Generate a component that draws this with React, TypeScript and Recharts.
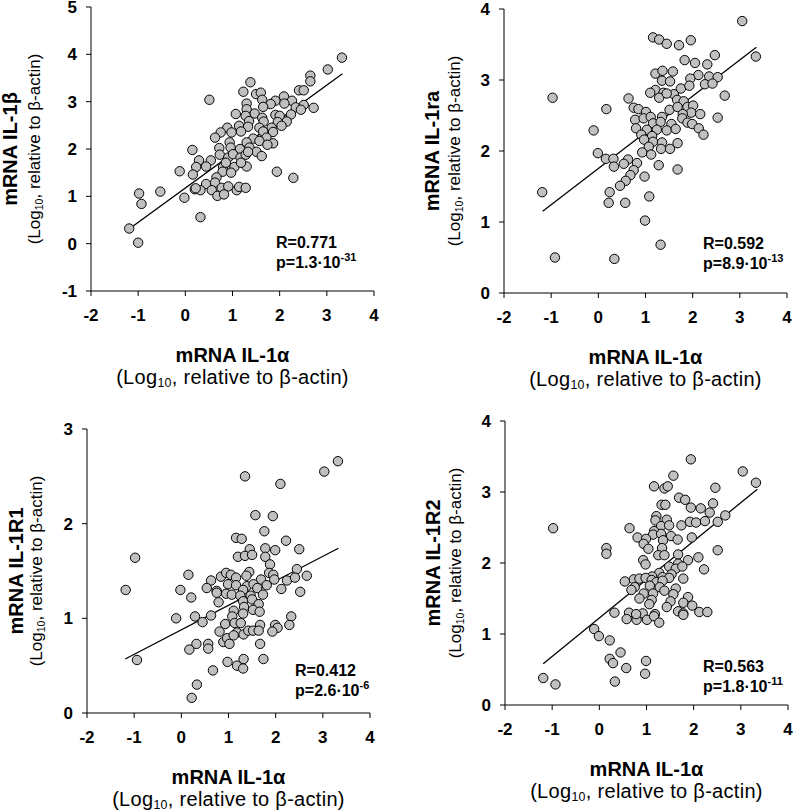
import React from 'react';
import { ScatterChart, Scatter, XAxis, YAxis, ReferenceLine } from 'recharts';

// x = mRNA IL-1α, y = second transcript (Log10, relative to β-actin)
const xTicks = [-2, -1, 0, 1, 2, 3, 4];

const il1bPoints: [number, number][] = [
  [3.32, 3.93], [3.02, 3.68], [2.65, 3.55], [2.65, 3.43], [2.41, 3.24], [2.51, 3.24], [1.38, 3.41], [1.23, 3.21],
  [1.5, 3.16], [1.6, 3.19], [0.51, 3.04], [1.63, 3.04], [1.3, 2.96], [2.09, 3.11], [2.26, 3.02], [1.91, 3.02],
  [1.81, 2.95], [2.1, 2.96], [2.34, 2.88], [2.51, 2.93], [2.72, 2.87], [1.65, 2.89], [1.3, 2.84], [1.47, 2.75],
  [1.07, 2.74], [1.28, 2.7], [1.63, 2.66], [1.91, 2.72], [2.0, 2.7], [2.24, 2.73], [2.45, 2.83], [1.35, 2.59],
  [1.66, 2.58], [1.96, 2.57], [2.15, 2.58], [1.14, 2.49], [0.89, 2.45], [1.33, 2.47], [1.57, 2.45], [1.83, 2.45],
  [2.04, 2.49], [0.75, 2.35], [0.98, 2.35], [1.18, 2.37], [1.65, 2.37], [1.86, 2.36], [0.63, 2.24], [1.44, 2.22],
  [1.72, 2.24], [0.94, 2.14], [1.3, 2.14], [1.57, 2.17], [1.86, 2.12], [0.15, 1.98], [0.72, 2.02], [0.96, 2.03],
  [1.16, 2.0], [1.36, 2.03], [1.74, 2.09], [1.51, 1.94], [1.62, 1.85], [0.29, 1.76], [0.54, 1.76], [0.73, 1.88],
  [0.91, 1.82], [1.01, 1.89], [1.17, 1.82], [1.28, 1.88], [1.33, 1.94], [0.23, 1.62], [0.44, 1.63], [0.8, 1.62],
  [1.04, 1.62], [1.3, 1.63], [0.86, 1.71], [1.18, 1.71], [-0.12, 1.53], [0.16, 1.46], [0.79, 1.52], [0.97, 1.5],
  [1.94, 1.52], [2.29, 1.39], [0.66, 1.4], [0.44, 1.26], [0.63, 1.29], [0.2, 1.15], [0.32, 1.13], [0.56, 1.13],
  [0.77, 1.18], [0.91, 1.21], [1.09, 1.13], [1.14, 1.2], [1.28, 1.18], [-0.98, 1.06], [-0.53, 1.1], [-0.02, 0.97],
  [0.68, 1.01], [0.82, 1.04], [-0.93, 0.84], [-1.19, 0.32], [-1.0, 0.02], [0.32, 0.56], [0.22, 1.17],
];

const il1raPoints: [number, number][] = [
  [3.05, 3.83], [3.34, 3.33], [1.16, 3.6], [1.29, 3.57], [1.45, 3.51], [1.71, 3.49], [1.96, 3.56], [2.47, 3.35],
  [1.83, 3.28], [2.05, 3.24], [2.31, 3.22], [-0.97, 2.75], [2.68, 2.78], [1.21, 3.09], [1.36, 3.13], [1.58, 3.12],
  [2.12, 3.07], [2.35, 3.05], [2.53, 3.04], [1.95, 3.02], [1.35, 2.99], [1.52, 2.98], [2.26, 2.94], [2.42, 2.95],
  [1.75, 2.88], [1.93, 2.92], [1.21, 2.86], [1.1, 2.82], [1.38, 2.82], [1.6, 2.8], [1.29, 2.75], [1.45, 2.81],
  [0.64, 2.74], [1.67, 2.72], [1.81, 2.7], [1.51, 2.58], [1.68, 2.62], [0.17, 2.59], [0.75, 2.61], [0.85, 2.59],
  [1.01, 2.55], [1.89, 2.62], [2.01, 2.64], [1.97, 2.54], [2.16, 2.52], [1.79, 2.52], [2.53, 2.47], [0.78, 2.44],
  [0.96, 2.46], [1.11, 2.48], [1.35, 2.48], [1.78, 2.46], [1.16, 2.39], [1.32, 2.41], [1.55, 2.38], [1.89, 2.4],
  [1.99, 2.38], [-0.1, 2.29], [0.8, 2.32], [1.03, 2.3], [1.24, 2.3], [1.45, 2.29], [1.64, 2.31], [2.13, 2.32],
  [0.91, 2.23], [1.14, 2.21], [2.23, 2.23], [0.97, 2.16], [1.16, 2.13], [1.35, 2.12], [1.68, 2.11], [1.07, 2.06],
  [1.33, 2.03], [1.52, 2.03], [-0.01, 1.97], [0.93, 1.98], [1.12, 1.95], [0.16, 1.89], [0.32, 1.89], [0.63, 1.88],
  [0.54, 1.82], [0.82, 1.83], [0.33, 1.78], [1.28, 1.8], [0.75, 1.73], [1.68, 1.74], [0.68, 1.66], [0.98, 1.64],
  [0.58, 1.58], [0.46, 1.51], [-1.19, 1.42], [0.24, 1.42], [1.08, 1.36], [0.22, 1.27], [0.57, 1.27], [0.99, 1.02],
  [1.32, 0.68], [-0.92, 0.5], [0.34, 0.48],
];

const il1r1Points: [number, number][] = [
  [3.32, 2.66], [3.03, 2.55], [1.35, 2.5], [2.1, 2.42], [1.57, 2.09], [1.94, 2.08], [1.76, 1.92], [1.16, 1.85],
  [1.28, 1.84], [2.22, 1.82], [1.45, 1.73], [1.78, 1.74], [1.99, 1.72], [2.5, 1.73], [-0.98, 1.64], [1.2, 1.65],
  [1.35, 1.66], [1.5, 1.67], [1.78, 1.65], [1.88, 1.57], [2.45, 1.52], [0.15, 1.46], [1.44, 1.49], [1.38, 1.45],
  [1.86, 1.48], [1.95, 1.46], [2.66, 1.45], [0.84, 1.44], [0.95, 1.48], [1.05, 1.46], [1.16, 1.43], [0.63, 1.4],
  [1.69, 1.41], [1.97, 1.41], [2.24, 1.4], [2.41, 1.43], [0.99, 1.36], [1.16, 1.35], [1.39, 1.34], [1.53, 1.36],
  [1.81, 1.35], [-0.02, 1.3], [0.54, 1.32], [0.75, 1.29], [1.31, 1.3], [1.61, 1.32], [2.12, 1.31], [-1.18, 1.3],
  [2.52, 1.28], [0.75, 1.27], [0.95, 1.26], [1.07, 1.25], [1.25, 1.24], [1.47, 1.24], [1.73, 1.25], [0.21, 1.22],
  [0.79, 1.17], [1.31, 1.18], [1.5, 1.2], [1.64, 1.15], [1.33, 1.12], [1.11, 1.08], [1.52, 1.09], [1.66, 1.07],
  [1.31, 1.05], [0.29, 1.02], [0.63, 1.03], [-0.11, 1.0], [1.08, 1.02], [2.33, 1.02], [0.45, 0.96], [0.93, 0.94],
  [1.13, 0.95], [1.26, 0.95], [1.67, 0.93], [1.99, 0.93], [2.04, 0.9], [2.29, 0.93], [0.81, 0.86], [1.18, 0.85],
  [1.32, 0.83], [1.42, 0.87], [1.52, 0.87], [1.64, 0.87], [1.93, 0.86], [0.89, 0.75], [0.97, 0.79], [1.11, 0.82],
  [1.02, 0.73], [0.32, 0.73], [0.57, 0.73], [0.57, 0.68], [0.17, 0.67], [1.67, 0.73], [-0.94, 0.56], [0.98, 0.54],
  [1.18, 0.5], [1.32, 0.57], [1.31, 0.47], [1.74, 0.57], [0.67, 0.45], [0.33, 0.3], [0.22, 0.16],
];

const il1r2Points: [number, number][] = [
  [1.94, 3.46], [3.04, 3.29], [3.32, 3.13], [1.57, 3.23], [1.16, 3.08], [1.38, 3.05], [1.45, 3.08], [2.46, 3.06],
  [1.69, 2.92], [1.82, 2.89], [2.41, 2.84], [1.32, 2.82], [1.4, 2.82], [1.94, 2.78], [2.15, 2.77], [2.34, 2.71],
  [2.67, 2.67], [1.21, 2.66], [1.19, 2.6], [1.43, 2.61], [-0.98, 2.49], [0.64, 2.49], [1.31, 2.52], [1.48, 2.53],
  [1.74, 2.53], [1.92, 2.58], [2.05, 2.57], [2.24, 2.59], [2.51, 2.58], [1.16, 2.45], [1.14, 2.4], [1.31, 2.41],
  [1.52, 2.38], [1.66, 2.33], [1.96, 2.36], [0.81, 2.36], [0.99, 2.34], [1.35, 2.32], [0.94, 2.27], [1.04, 2.2],
  [1.33, 2.21], [0.15, 2.21], [0.15, 2.13], [2.51, 2.18], [1.25, 2.11], [1.38, 2.11], [1.67, 2.12], [2.1, 2.08],
  [0.93, 2.04], [0.98, 1.98], [1.67, 1.99], [1.88, 2.04], [1.48, 1.95], [1.62, 1.92], [1.76, 1.95], [2.22, 1.91],
  [1.27, 1.86], [1.53, 1.84], [1.12, 1.81], [1.34, 1.8], [1.48, 1.79], [1.78, 1.78], [0.73, 1.77], [0.85, 1.78],
  [0.98, 1.79], [0.54, 1.74], [1.11, 1.76], [1.21, 1.73], [1.34, 1.75], [0.75, 1.66], [1.07, 1.68], [1.28, 1.66],
  [0.68, 1.62], [1.38, 1.61], [1.62, 1.64], [0.94, 1.57], [1.14, 1.57], [1.57, 1.56], [0.85, 1.5], [1.11, 1.48],
  [1.88, 1.52], [1.51, 1.46], [1.06, 1.42], [1.78, 1.44], [1.97, 1.4], [1.43, 1.38], [0.32, 1.3], [0.63, 1.3],
  [0.92, 1.29], [1.18, 1.28], [1.67, 1.32], [1.78, 1.29], [2.12, 1.31], [2.29, 1.31], [0.58, 1.21], [0.79, 1.2],
  [0.78, 1.28], [1.01, 1.2], [1.16, 1.25], [1.27, 1.16], [1.78, 1.27], [-0.11, 1.07], [-0.01, 0.97], [0.22, 0.91],
  [0.45, 0.74], [0.22, 0.65], [0.29, 0.59], [0.57, 0.52], [0.99, 0.62], [0.97, 0.44], [0.33, 0.33], [-1.19, 0.38],
  [-0.93, 0.29],
];

// regression line end points
const il1bFit: [number, number][] = [[-1.15, 0.34], [3.33, 3.59]];
const il1raFit: [number, number][] = [[-1.18, 1.15], [3.35, 3.46]];
const il1r1Fit: [number, number][] = [[-1.19, 0.57], [3.33, 1.74]];
const il1r2Fit: [number, number][] = [[-1.19, 0.58], [3.35, 3.04]];

const rValues = ['0.771', '0.592', '0.412', '0.563'];
const pValues = [['1.3', '-31'], ['8.9', '-13'], ['2.6', '-6'], ['1.8', '-11']];
const yTitles = ['mRNA IL-1β', 'mRNA IL-1ra', 'mRNA IL-1R1', 'mRNA IL-1R2'];

const PLOT_W = 283;
const PLOT_H = 284;
const FONT = "'Liberation Sans', Arial, sans-serif";

const tickStyle = { fill: '#000', fontSize: 17, fontWeight: 700, fontFamily: FONT };

const Dot = (props: any) => (
  <circle cx={props.cx} cy={props.cy} r={4.7} fill="#c0c0c0" stroke="#000" strokeWidth={1} />
);

const Sub = () => (
  <>
    (Log<span style={{ fontSize: '0.62em', verticalAlign: '-0.25em' }}>10</span>, relative to β-actin)
  </>
);

interface PanelProps {
  ax: number;
  top: number;
  points: [number, number][];
  fit: [number, number][];
  yDomain: [number, number];
  title: string;
  r: string;
  p: string[];
  statsLeft: number;
  statsTop: number;
  yTitleX: number;
  ySubX: number;
}

const Panel = ({ ax, top, points, fit, yDomain, title, r, p, statsLeft, statsTop, yTitleX, ySubX }: PanelProps) => {
  const data = points.map(([x, y]) => ({ x, y }));
  const yTicks: number[] = [];
  for (let v = yDomain[0]; v <= yDomain[1]; v++) yTicks.push(v);
  const cx = ax + PLOT_W / 2;
  const cy = top + PLOT_H / 2;
  const bottom = top + PLOT_H;
  return (
    <>
      <div style={{ position: 'absolute', left: ax - 60, top: top - 10 }}>
        <ScatterChart width={60 + PLOT_W + 8} height={10 + PLOT_H + 40} margin={{ top: 10, right: 8, bottom: 0, left: 0 }}>
          <XAxis
            type="number"
            dataKey="x"
            domain={[-2, 4]}
            ticks={xTicks}
            interval={0}
            allowDataOverflow
            height={40}
            tickSize={5}
            tickMargin={13}
            stroke="#000"
            tick={tickStyle}
          />
          <YAxis
            type="number"
            dataKey="y"
            domain={yDomain}
            ticks={yTicks}
            interval={0}
            allowDataOverflow
            width={60}
            tickSize={5}
            tickMargin={9}
            stroke="#000"
            tick={tickStyle}
          />
          <ReferenceLine
            segment={[{ x: fit[0][0], y: fit[0][1] }, { x: fit[1][0], y: fit[1][1] }]}
            stroke="#000"
            strokeWidth={1.3}
            ifOverflow="visible"
          />
          <Scatter data={data} shape={Dot} isAnimationActive={false} />
        </ScatterChart>
      </div>
      <div style={{ position: 'absolute', left: cx, top: bottom + 64, transform: 'translate(-50%, -50%)', whiteSpace: 'nowrap', fontSize: 20, fontWeight: 700, lineHeight: 1 }}>
        mRNA IL-1α
      </div>
      <div style={{ position: 'absolute', left: cx, top: bottom + 87, transform: 'translate(-50%, -50%)', whiteSpace: 'nowrap', fontSize: 20, letterSpacing: 0.3, lineHeight: 1 }}>
        <Sub />
      </div>
      <div style={{ position: 'absolute', left: yTitleX, top: cy, transform: 'translate(-50%, -50%) rotate(-90deg)', whiteSpace: 'nowrap', fontSize: 20, fontWeight: 700, lineHeight: 1 }}>
        {title}
      </div>
      <div style={{ position: 'absolute', left: ySubX, top: cy, transform: 'translate(-50%, -50%) rotate(-90deg)', whiteSpace: 'nowrap', fontSize: 17, lineHeight: 1 }}>
        <Sub />
      </div>
      <div style={{ position: 'absolute', left: statsLeft, top: statsTop, fontSize: 16, fontWeight: 700, lineHeight: '20px', whiteSpace: 'nowrap' }}>
        <div>R={r}</div>
        <div>
          p={p[0]}·10<span style={{ fontSize: 11, position: 'relative', top: -7 }}>{p[1]}</span>
        </div>
      </div>
    </>
  );
};

export default function App() {
  return (
    <div style={{ position: 'absolute', left: 0, top: 0, width: 794, height: 811, background: '#fff', overflow: 'hidden', fontFamily: FONT, color: '#000' }}>
      <Panel ax={91} top={7} points={il1bPoints} fit={il1bFit} yDomain={[-1, 5]} title={yTitles[0]} r={rValues[0]} p={pValues[0]} statsLeft={276} statsTop={233} yTitleX={10} ySubX={35} />
      <Panel ax={504} top={9} points={il1raPoints} fit={il1raFit} yDomain={[0, 4]} title={yTitles[1]} r={rValues[1]} p={pValues[1]} statsLeft={703} statsTop={234} yTitleX={432} ySubX={455} />
      <Panel ax={87} top={429} points={il1r1Points} fit={il1r1Fit} yDomain={[0, 3]} title={yTitles[2]} r={rValues[2]} p={pValues[2]} statsLeft={295} statsTop={661} yTitleX={16} ySubX={37} />
      <Panel ax={505} top={421} points={il1r2Points} fit={il1r2Fit} yDomain={[0, 4]} title={yTitles[3]} r={rValues[3]} p={pValues[3]} statsLeft={703} statsTop={657} yTitleX={433} ySubX={456} />
    </div>
  );
}
